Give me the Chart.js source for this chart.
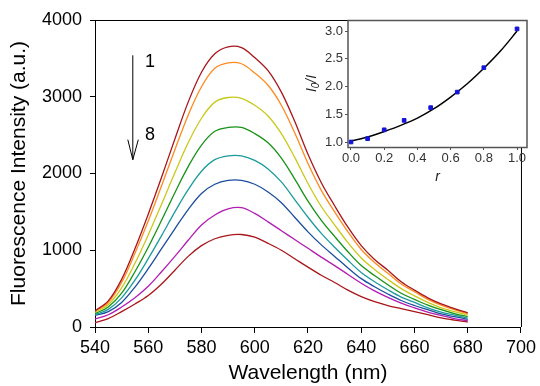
<!DOCTYPE html>
<html>
<head>
<meta charset="utf-8">
<script src="https://cdn.jsdelivr.net/npm/chart.js@4.4.1/dist/chart.umd.min.js"></script>
<style>
  html, body { margin: 0; padding: 0; background: #fff; }
  #wrap { position: relative; width: 540px; height: 386px; }
  #main { position: absolute; left: 0; top: 0; }
  #inset { position: absolute; left: 295px; top: 10px; }
</style>
</head>
<body>
<div id="wrap">
  <canvas id="main" width="540" height="386"></canvas>
  <canvas id="inset" width="245" height="180"></canvas>
</div>
<script>
// ── Data ─────────────────────────────────────────────────────
const wavelengths = [540,545,550,555,560,565,570,575,580,585,590,595,600,605,610,615,620,625,630,635,640,645,650,655,660,665,670,675,680];
const spectrum1 = [210,340,620,1020,1470,1950,2450,2930,3320,3560,3650,3640,3510,3340,3060,2680,2250,1880,1580,1300,1060,880,740,590,480,380,300,240,185];
const spectrum2 = [205,320,580,960,1380,1840,2310,2760,3130,3370,3440,3430,3310,3150,2890,2530,2130,1780,1500,1240,1010,840,700,560,460,360,285,225,175];
const spectrum3 = [190,290,510,830,1200,1600,2010,2400,2720,2930,2990,2980,2890,2750,2520,2210,1870,1570,1330,1100,900,750,620,500,405,320,250,200,155];
const spectrum4 = [175,260,440,720,1040,1390,1750,2090,2370,2550,2600,2600,2520,2400,2200,1930,1640,1390,1180,980,800,670,550,440,360,285,225,175,135];
const spectrum5 = [160,230,380,610,890,1190,1500,1790,2030,2180,2230,2230,2170,2060,1890,1660,1430,1220,1040,870,710,590,485,390,320,250,195,155,115];
const spectrum6 = [150,200,320,520,760,1020,1280,1530,1740,1860,1910,1910,1860,1760,1620,1430,1240,1070,920,770,630,525,430,345,280,225,170,135,100];
const spectrum7 = [105,160,260,380,530,720,920,1130,1330,1460,1540,1555,1480,1370,1255,1140,1025,910,800,685,570,470,385,310,250,195,150,110,82];
const spectrum8 = [55,110,200,300,410,560,740,920,1060,1150,1195,1205,1170,1090,1000,890,780,675,580,480,395,330,280,240,200,160,120,90,65];
const spectra = [spectrum1, spectrum2, spectrum3, spectrum4, spectrum5, spectrum6, spectrum7, spectrum8];
const spectrumColors = ['#A8161B','#FF8A1E','#C9C91A','#179317','#1B9B9B','#1A4E9E','#B21CB2','#A8161B'];

const xTicks = [540,560,580,600,620,640,660,680,700];
const yTicks = [0,1000,2000,3000,4000];

// inset: I0/I vs r
const ratioR    = [0, 0.1, 0.2, 0.32, 0.48, 0.64, 0.8, 1.0];
const ratioI0I  = [1.0, 1.06, 1.22, 1.39, 1.62, 1.90, 2.34, 3.04];
const fitR      = [0, 0.1, 0.2, 0.3, 0.4, 0.5, 0.6, 0.7, 0.8, 0.9, 1.0];
const fitI0I    = [1.02, 1.09, 1.19, 1.30, 1.43, 1.60, 1.81, 2.05, 2.33, 2.64, 3.00];
const insetXTicks = [0, 0.2, 0.4, 0.6, 0.8, 1.0];
const insetYTicks = [1.0, 1.5, 2.0, 2.5, 3.0];

const FONT = '"Liberation Sans", Arial, sans-serif';

// ── Main chart ───────────────────────────────────────────────
const framePlugin = {
  id: 'frame',
  afterDraw(chart) {
    const { ctx, chartArea: a, scales: { x, y } } = chart;
    ctx.save();
    ctx.strokeStyle = '#000';
    ctx.lineWidth = 1;
    ctx.beginPath();
    ctx.moveTo(a.left, a.top + 0.5); ctx.lineTo(a.right + 0.5, a.top + 0.5);
    ctx.lineTo(a.right + 0.5, a.bottom);
    ctx.stroke();

    // arrow 1 → 8
    const ax = x.getPixelForValue(554.2);
    const y1 = y.getPixelForValue(3540), y2 = y.getPixelForValue(2180);
    ctx.beginPath();
    ctx.moveTo(ax, y1); ctx.lineTo(ax, y2);
    ctx.moveTo(ax - 5, y2 - 20); ctx.lineTo(ax, y2); ctx.lineTo(ax + 5.5, y2 - 20);
    ctx.stroke();
    ctx.fillStyle = '#000';
    ctx.font = '18px ' + FONT;
    ctx.textBaseline = 'middle';
    ctx.textAlign = 'left';
    ctx.fillText('1', x.getPixelForValue(558.8), y.getPixelForValue(3450));
    ctx.fillText('8', x.getPixelForValue(558.8), y.getPixelForValue(2500));
    ctx.restore();
  }
};

new Chart(document.getElementById('main'), {
  type: 'line',
  data: {
    datasets: spectra.map((s, i) => ({
      label: String(i + 1),
      data: wavelengths.map((w, j) => ({ x: w, y: s[j] })),
      borderColor: spectrumColors[i],
      borderWidth: 1.3,
      pointRadius: 0,
      tension: 0.35,
      fill: false
    }))
  },
  options: {
    responsive: false,
    animation: false,
    devicePixelRatio: 1,
    layout: { padding: { top: 20, right: 16, left: 0, bottom: 0 } },
    plugins: { legend: { display: false }, tooltip: { enabled: false } },
    scales: {
      x: {
        type: 'linear', min: 540, max: 700,
        afterFit: s => { s.height = 59; },
        afterBuildTicks: s => { s.ticks = xTicks.map(v => ({ value: v })); },
        ticks: { font: { family: FONT, size: 18 }, color: '#000', padding: 4, maxRotation: 0,
                 callback: v => String(v) },
        grid: { drawOnChartArea: false, drawTicks: true, tickLength: 6, color: '#000' },
        border: { display: true, color: '#000', width: 1 },
        title: { display: true, text: 'Wavelength (nm)', color: '#000',
                 font: { family: FONT, size: 21, lineHeight: 1 }, padding: { top: 0, bottom: 2 } }
      },
      y: {
        type: 'linear', min: 0, max: 4000,
        afterFit: s => { s.width = 95; },
        afterBuildTicks: s => { s.ticks = yTicks.map(v => ({ value: v })); },
        ticks: { font: { family: FONT, size: 18 }, color: '#000', padding: 8,
                 callback: v => String(v) },
        grid: { drawOnChartArea: false, drawTicks: true, tickLength: 5, color: '#000' },
        border: { display: true, color: '#000', width: 1 },
        title: { display: true, text: 'Fluorescence Intensity (a.u.)', color: '#000',
                 font: { family: FONT, size: 21, lineHeight: 1 }, padding: { top: 9, bottom: 0 } }
      }
    }
  },
  plugins: [framePlugin]
});

// ── Inset chart ──────────────────────────────────────────────
const insetPlugin = {
  id: 'insetFrame',
  beforeDraw(chart) {
    const { ctx, chartArea: a } = chart;
    ctx.save();
    ctx.fillStyle = '#fff';
    ctx.fillRect(a.left, a.top, a.right - a.left, a.bottom - a.top);
    ctx.restore();
  },
  afterDraw(chart) {
    const { ctx, chartArea: a } = chart;
    ctx.save();
    ctx.strokeStyle = '#555';
    ctx.lineWidth = 1.5;
    ctx.strokeRect(a.left, a.top + 0.5, a.right - a.left, a.bottom - a.top);
    // y title  I0/I  (italic, subscript 0)
    ctx.translate(17, (a.top + a.bottom) / 2);
    ctx.rotate(-Math.PI / 2);
    ctx.fillStyle = '#222';
    ctx.textBaseline = 'middle';
    ctx.textAlign = 'left';
    const big = 'italic 14px ' + FONT, small = 'italic 10px ' + FONT;
    ctx.font = big;   const w1 = ctx.measureText('I').width;
    ctx.font = small; const w2 = ctx.measureText('0').width;
    ctx.font = big;   const w3 = ctx.measureText('/I').width;
    let px = -(w1 + w2 + w3) / 2;
    ctx.font = big;   ctx.fillText('I', px, 0); px += w1;
    ctx.font = small; ctx.fillText('0', px, 4); px += w2;
    ctx.font = big;   ctx.fillText('/I', px, 0);
    ctx.restore();
  }
};

new Chart(document.getElementById('inset'), {
  type: 'scatter',
  data: {
    datasets: [
      {
        type: 'line',
        data: fitR.map((r, i) => ({ x: r, y: fitI0I[i] })),
        borderColor: '#000', borderWidth: 1.5, pointRadius: 0,
        cubicInterpolationMode: 'monotone', order: 2
      },
      {
        data: ratioR.map((r, i) => ({ x: r, y: ratioI0I[i] })),
        pointStyle: 'rect', pointRadius: 2.6,
        backgroundColor: '#1414D8', borderColor: '#1414D8', order: 1
      }
    ]
  },
  options: {
    responsive: false,
    animation: false,
    devicePixelRatio: 1,
    layout: { padding: { top: 10, right: 13, left: 0, bottom: 0 } },
    plugins: { legend: { display: false }, tooltip: { enabled: false } },
    scales: {
      x: {
        type: 'linear', min: -0.018, max: 1.06,
        afterFit: s => { s.height = 43; },
        afterBuildTicks: s => { s.ticks = insetXTicks.map(v => ({ value: v })); },
        ticks: { font: { family: FONT, size: 13 }, color: '#333', padding: 1, maxRotation: 0,
                 callback: v => v.toFixed(1) },
        grid: { drawOnChartArea: false, drawTicks: true, tickLength: 3, color: '#555' },
        border: { display: false },
        title: { display: true, text: 'r', color: '#222',
                 font: { family: FONT, size: 14, style: 'italic', lineHeight: 1 }, padding: { top: 0, bottom: 6 } }
      },
      y: {
        type: 'linear', min: 0.91, max: 3.2,
        afterFit: s => { s.width = 53; },
        afterBuildTicks: s => { s.ticks = insetYTicks.map(v => ({ value: v })); },
        ticks: { font: { family: FONT, size: 13 }, color: '#333', padding: 2,
                 callback: v => v.toFixed(1) },
        grid: { drawOnChartArea: false, drawTicks: true, tickLength: 3, color: '#555' },
        border: { display: false }
      }
    }
  },
  plugins: [insetPlugin]
});
</script>
</body>
</html>
